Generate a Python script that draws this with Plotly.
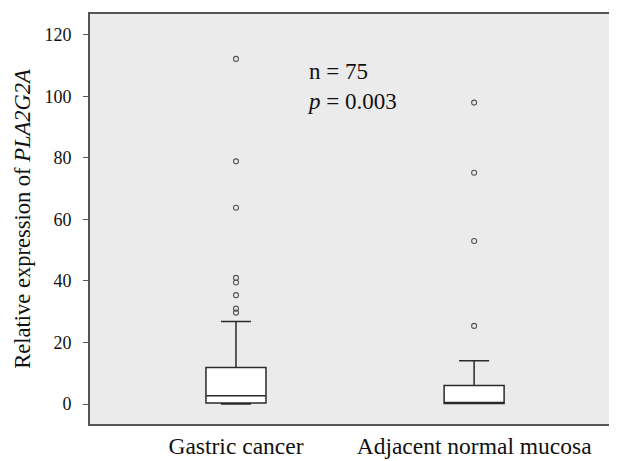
import plotly.graph_objects as go

categories = ["Gastric cancer", "Adjacent normal mucosa"]
q1 = [0.3, 0.2]
median = [2.7, 0.2]
q3 = [11.9, 6.0]
lowerfence = [0.0, 0.2]
upperfence = [26.8, 14.1]

outliers_gastric = [112.2, 78.9, 63.8, 41.0, 39.5, 35.4, 31.0, 29.7]
outliers_adjacent = [98.0, 75.2, 53.0, 25.4]

yticks = [0, 20, 40, 60, 80, 100, 120]

serif = "Liberation Serif, Times New Roman, serif"
dark = "#2a2a2a"

fig = go.Figure()
fig.add_trace(go.Box(
    x=categories, q1=q1, median=median, q3=q3,
    lowerfence=lowerfence, upperfence=upperfence,
    width=0.252, whiskerwidth=0.5,
    fillcolor="white", line=dict(color=dark, width=1.5),
    boxpoints=False, showlegend=False, hoverinfo="skip",
))
fig.add_trace(go.Scatter(
    x=[categories[0]] * len(outliers_gastric) + [categories[1]] * len(outliers_adjacent),
    y=outliers_gastric + outliers_adjacent,
    mode="markers",
    marker=dict(symbol="circle-open", size=5, color="#555555", line=dict(width=1.1)),
    showlegend=False, hoverinfo="skip",
))

fig.add_annotation(
    x=0.29, y=103.1, xref="x", yref="y",
    text="n = 75<br><i>p</i> = 0.003",
    showarrow=False, xanchor="left", yanchor="middle", align="left",
    font=dict(family=serif, size=23, color="#111111"),
)

# page body adds an 8px offset; size the figure to fill the rest of the window
fig.update_layout(
    width=609, height=453,
    margin=dict(l=82, r=0, t=6, b=37),
    paper_bgcolor="white", plot_bgcolor="#ebebeb",
    font=dict(family=serif, color="#111111"),
    xaxis=dict(
        type="category", range=[-0.613, 1.6], automargin=False,
        showgrid=False, zeroline=False,
        showline=True, mirror=True, linecolor="#555555", linewidth=1.6,
        ticks="", tickfont=dict(family=serif, size=23.5, color="#111111"),
        ticklabelstandoff=0,
    ),
    yaxis=dict(
        range=[-6.5, 126.8], tickvals=yticks, automargin=False,
        showgrid=False, zeroline=False,
        showline=True, linecolor="#555555", linewidth=1.6,
        ticks="outside", ticklen=5, tickcolor="#555555", tickwidth=1.2,
        tickfont=dict(family=serif, size=18, color="#111111"),
        ticklabelstandoff=8,
        title=dict(text="Relative expression of <i>PLA2G2A</i>",
                   font=dict(family=serif, size=22.5, color="#111111"), standoff=8),
    ),
)

fig.write_html("out.html")
